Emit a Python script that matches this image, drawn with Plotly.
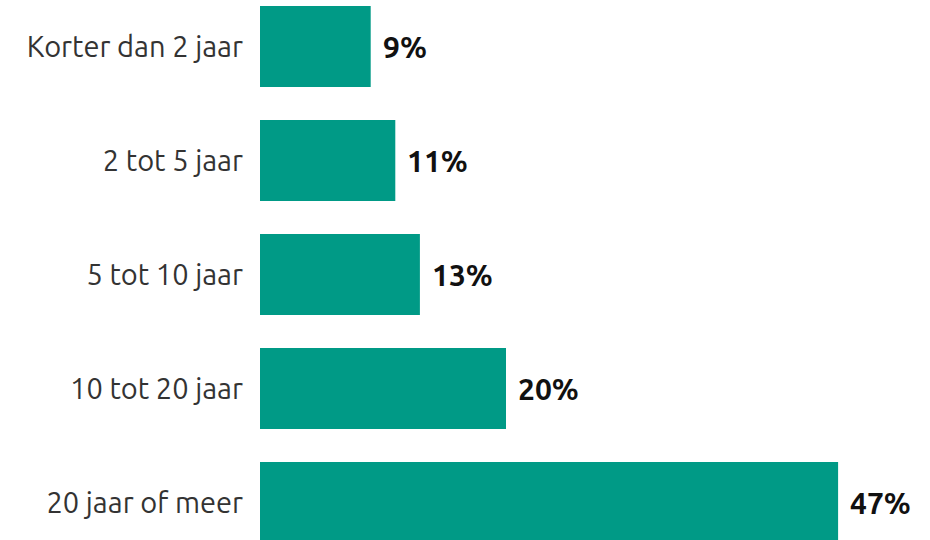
import plotly.graph_objects as go

categories = ["Korter dan 2 jaar", "2 tot 5 jaar", "5 tot 10 jaar", "10 tot 20 jaar", "20 jaar of meer"]
values = [9, 11, 13, 20, 47]
value_labels = ["9%", "11%", "13%", "20%", "47%"]

BAR_COLOR = "#009A86"
FONT = "Ubuntu, 'Open Sans', sans-serif"

fig = go.Figure(
    go.Bar(
        y=categories,
        x=values,
        orientation="h",
        marker=dict(color=BAR_COLOR, line=dict(width=0)),
        hoverinfo="skip",
    )
)

for cat, val, lab in zip(categories, values, value_labels):
    fig.add_annotation(
        x=val, y=cat, text=f"<b>{lab}</b>", showarrow=False,
        xanchor="left", yanchor="middle", xshift=10,
        font=dict(family=FONT, size=30, color="#111111"),
    )

fig.update_layout(
    width=930, height=540,
    margin=dict(l=260, r=0, t=0, b=0),
    paper_bgcolor="white", plot_bgcolor="white",
    bargap=0.29,
    showlegend=False,
    font=dict(family=FONT, size=29, color="#333333"),
)
fig.update_xaxes(range=[0, 670 / 12.3], visible=False)
fig.update_yaxes(
    categoryorder="array", categoryarray=categories,
    range=[4.329, -0.408], showgrid=False, zeroline=False, showline=False,
    ticks="", ticklabelstandoff=16,
    tickfont=dict(family=FONT, size=29, color="#333333"),
)

fig.write_html("out.html")
